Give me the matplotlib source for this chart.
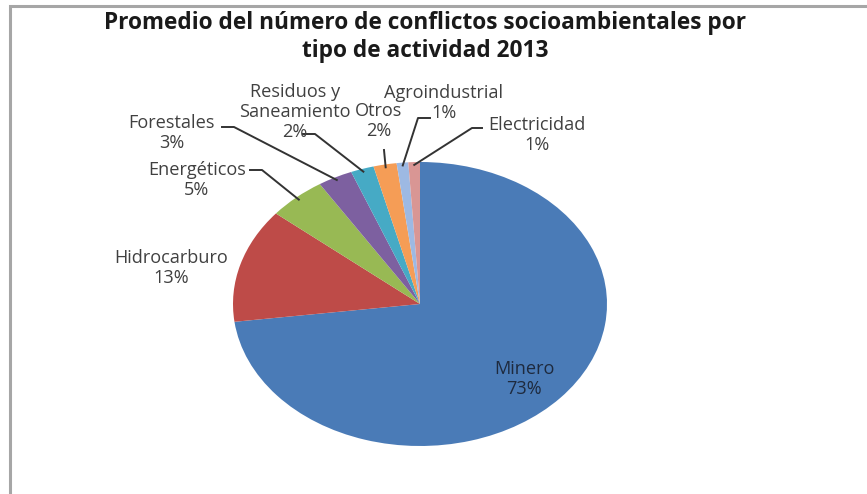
import numpy as np
import matplotlib
matplotlib.use("Agg")
import matplotlib.pyplot as plt
from matplotlib.patches import Rectangle

# Conflictos socioambientales 2013 por tipo de actividad (%)
actividades = ["Minero", "Hidrocarburo", "Energéticos", "Forestales",
               "Residuos y\nSaneamiento", "Otros", "Agroindustrial", "Electricidad"]
porcentajes = [73, 13, 5, 3, 2, 2, 1, 1]
colores = ["#4A7BB7", "#BE4B48", "#98B954", "#7D60A0",
           "#46AAC5", "#F59D56", "#9DB9E3", "#D99694"]
titulo = ["Promedio del número de conflictos socioambientales por",
          "tipo de actividad 2013"]

W, H = 867, 494
CX, CY, RX, RY = 420, 304, 187, 142   # centro y semiejes de la torta (px)
INTERLINEA = 20                       # separacion entre lineas de etiqueta (px)

# posicion de cada etiqueta (px) y tramo inicial de su linea guia
pos_etiquetas = {
    "Minero": (524, 379),
    "Hidrocarburo": (171, 268),
    "Energéticos": (197, 180),
    "Forestales": (172, 133),
    "Residuos y\nSaneamiento": (295, 112),
    "Otros": (379, 121),
    "Agroindustrial": (444, 103),
    "Electricidad": (537, 135),
}
guias = {
    "Energéticos": [(250, 170), (262, 170)],
    "Forestales": [(222, 127), (234, 127)],
    "Residuos y\nSaneamiento": [(303, 134), (315, 134)],
    "Otros": [(384, 150)],
    "Agroindustrial": [(430, 118), (418, 118)],
    "Electricidad": [(482, 128), (472, 128)],
}


def px2data(px, py):
    return (px - CX) / RX, (CY - py) / RY


plt.rcParams["font.family"] = ["Open Sans", "DejaVu Sans"]
fig = plt.figure(figsize=(W / 100, H / 100), dpi=100)
fig.patch.set_facecolor("white")

ax = fig.add_axes([(CX - RX) / W, (H - CY - RY) / H, 2 * RX / W, 2 * RY / H])
wedges, _ = ax.pie(porcentajes, colors=colores, startangle=90, counterclock=False,
                   wedgeprops=dict(linewidth=0))
ax.set_aspect("auto")
ax.set_xlim(-1, 1)
ax.set_ylim(-1, 1)

acum = np.cumsum([0] + porcentajes)
for i, nombre in enumerate(actividades):
    medio = (acum[i] + porcentajes[i] / 2) / acum[-1] * 2 * np.pi
    lineas = nombre.split("\n") + [f"{porcentajes[i]}%"]
    px, py = pos_etiquetas[nombre]
    color_txt = "#1e2a3e" if nombre == "Minero" else "#404040"
    # cada linea va como texto propio para que las cajas no se pisen
    for j, linea in enumerate(lineas):
        ly = py + (j - (len(lineas) - 1) / 2) * INTERLINEA
        ax.text(*px2data(px, ly), linea, ha="center", va="center",
                fontsize=13.1, color=color_txt, clip_on=False)
    if nombre in guias:
        pts = [px2data(*p) for p in guias[nombre]]
        pts.append((0.98 * np.sin(medio), 0.98 * np.cos(medio)))
        xs, ys = zip(*pts)
        ax.plot(xs, ys, color="#333333", lw=1.4, clip_on=False)

for k, linea in enumerate(titulo):
    fig.text(425 / W, 1 - (23 + 28 * k) / H, linea, ha="center", va="center",
             fontsize=16.3, fontweight="bold", color="#1a1a1a")

# marco del area del grafico
fig.patches.append(Rectangle((10 / W, -0.1), 1.2, (H - 6) / H + 0.1, transform=fig.transFigure,
                             fill=False, edgecolor="#a6a6a6", lw=2.2))

fig.savefig("out.png", dpi=100)
